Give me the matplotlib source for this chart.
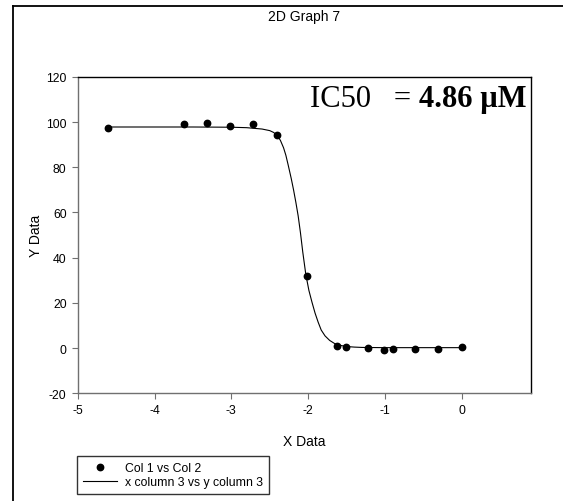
import matplotlib
matplotlib.use("Agg")
import matplotlib.pyplot as plt
from matplotlib.lines import Line2D

# Measured points (Col 1 vs Col 2)
x_points = [-4.61, -3.61, -3.32, -3.02, -2.72, -2.41, -2.02,
            -1.62, -1.51, -1.22, -1.01, -0.90, -0.61, -0.31, 0.0]
y_points = [97.4, 99.3, 99.7, 98.4, 99.1, 94.3, 31.9,
            0.9, 0.3, 0.0, -0.7, -0.2, -0.3, -0.2, 0.6]

# Fitted curve (x column 3 vs y column 3)
x_curve = [-4.62, -4.0, -3.5, -3.0, -2.8, -2.7, -2.6, -2.5, -2.45, -2.40, -2.36, -2.32,
           -2.29, -2.26, -2.22, -2.19, -2.16, -2.13, -2.10, -2.07, -2.03,
           -1.99, -1.95, -1.91, -1.87, -1.83, -1.78, -1.72, -1.65, -1.58,
           -1.50, -1.40, -1.30, -1.0, -0.5, 0.0]
y_curve = [97.8, 97.8, 97.8, 97.7, 97.5, 97.2, 96.9, 96.2, 95.4, 94.0, 91.8, 88.6,
           85.3, 81.0, 75.0, 70.0, 64.5, 58.5, 51.0, 42.5, 32.5,
           25.5, 20.3, 15.5, 11.5, 8.0, 5.4, 3.4, 1.9, 1.2,
           0.7, 0.45, 0.3, 0.2, 0.2, 0.2]

x_ticks = [-5, -4, -3, -2, -1, 0]
y_ticks = [-20, 0, 20, 40, 60, 80, 100, 120]

title = "2D Graph 7"
x_label = "X Data"
y_label = "Y Data"
legend_labels = ["Col 1 vs Col 2", "x column 3 vs y column 3"]
ic50_prefix = "IC50   = "
ic50_value = "4.86 µM"

plt.rcParams['font.family'] = ['Liberation Sans', 'DejaVu Sans']

fig = plt.figure(figsize=(5.63, 5.02), dpi=100)
ax = fig.add_axes([0.138, 0.2145, 0.805, 0.6305])

ax.plot(x_curve, y_curve, color='black', linewidth=0.8, zorder=2)
ax.plot(x_points, y_points, linestyle='none', marker='o', markersize=4.6,
        color='black', zorder=3)

ax.set_xlim(-5, 0.9)
ax.set_ylim(-20, 120)
ax.set_xticks(x_ticks)
ax.set_yticks(y_ticks)
ax.set_xticklabels([str(v) for v in x_ticks])
ax.set_yticklabels([str(v) for v in y_ticks])
ax.tick_params(direction='out', length=4, width=0.8, color='#707070',
               labelsize=8.8, pad=4)

for s in ['left', 'bottom']:
    ax.spines[s].set_color('#707070')
    ax.spines[s].set_linewidth(1.0)
for s in ['top', 'right']:
    ax.spines[s].set_color('black')
    ax.spines[s].set_linewidth(1.0)

ax.set_xlabel(x_label, fontsize=10, labelpad=13)
ax.set_ylabel(y_label, fontsize=10, labelpad=2)
fig.text(0.54, 0.966, title, ha='center', va='center', fontsize=10)

# IC50 annotation
t_bold = ax.text(0.99, 0.907, ic50_value, transform=ax.transAxes, ha='right',
                 va='baseline', fontsize=22, fontweight='bold',
                 family=['Liberation Serif', 'DejaVu Serif'])
fig.canvas.draw()
bb = t_bold.get_window_extent()
x0 = ax.transAxes.inverted().transform((bb.x0, bb.y0))[0]
ax.text(x0, 0.907, ic50_prefix, transform=ax.transAxes, ha='right',
        va='baseline', fontsize=22, family=['Liberation Serif', 'DejaVu Serif'])

# Legend
handles = [Line2D([], [], linestyle='none', marker='o', markersize=4.6, color='black'),
           Line2D([], [], color='black', linewidth=0.8)]
leg = fig.legend(handles, legend_labels, loc='upper left',
                 bbox_to_anchor=(0.137, 0.09), fontsize=8.8, frameon=True,
                 fancybox=False, borderpad=0.5, handlelength=2.8,
                 handletextpad=0.6, labelspacing=0.2, borderaxespad=0)
leg.get_frame().set_edgecolor('black')
leg.get_frame().set_linewidth(1.0)

# Figure frame (left and top lines)
fig.add_artist(Line2D([12.5 / 563, 12.5 / 563], [0, 1 - 7 / 502],
                      transform=fig.transFigure, color='black', linewidth=1.3))
fig.add_artist(Line2D([12.5 / 563, 1], [1 - 7 / 502, 1 - 7 / 502],
                      transform=fig.transFigure, color='black', linewidth=1.3))

fig.savefig("out.png", dpi=100)
